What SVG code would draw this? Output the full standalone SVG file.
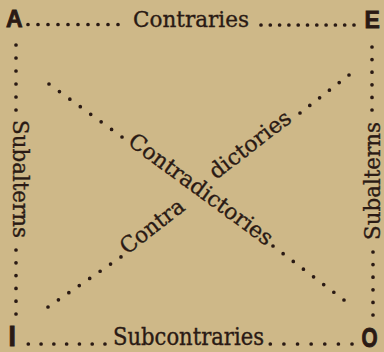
<svg xmlns="http://www.w3.org/2000/svg" width="384" height="352" viewBox="0 0 384 352">
<style>
.dot{stroke:#2a1a14;stroke-width:3.7;stroke-linecap:round;fill:none}
.lbl{font-family:"DejaVu Serif","Liberation Serif",serif;font-size:22px;fill:#2a1a14;stroke:#2a1a14;stroke-width:0.35}
.corner{font-family:"Liberation Sans","DejaVu Sans",sans-serif;font-weight:bold;font-size:23px;fill:#2a1a14;stroke:#2a1a14;stroke-width:0.8}
</style>
<rect width="384" height="352" fill="#ceb888"/>
<g id="connectors">
  <line class="dot" x1="28" y1="24.5" x2="119" y2="24.5" stroke-dasharray="0 10"/>
  <line class="dot" x1="261" y1="25" x2="355" y2="25" stroke-dasharray="0 9.3"/>
  <line class="dot" x1="28.3" y1="344" x2="106" y2="344" stroke-dasharray="0 12.78"/>
  <line class="dot" x1="270.3" y1="344" x2="353" y2="344" stroke-dasharray="0 13.62"/>
  <line class="dot" x1="16" y1="45" x2="16" y2="111" stroke-dasharray="0 13"/>
  <line class="dot" x1="16" y1="250" x2="16" y2="315" stroke-dasharray="0 12.8"/>
  <line class="dot" x1="372" y1="47" x2="372" y2="111" stroke-dasharray="0 12.6"/>
  <line class="dot" x1="373" y1="252" x2="373" y2="316" stroke-dasharray="0 12.6"/>
  <line class="dot" x1="49" y1="84" x2="122.8" y2="137.6" stroke-dasharray="0 12.89"/>
  <line class="dot" x1="273" y1="246" x2="344.8" y2="300.6" stroke-dasharray="0 12.74"/>
  <line class="dot" x1="48" y1="307" x2="121.8" y2="256.4" stroke-dasharray="0 12.64"/>
  <line class="dot" x1="300" y1="113" x2="349.8" y2="74.4" stroke-dasharray="0 12.4"/>
  <text class="lbl" x="133" y="27" textLength="116" lengthAdjust="spacingAndGlyphs">Contraries</text>
  <text class="lbl" transform="translate(113,345) scale(1,1.12)" textLength="151" lengthAdjust="spacingAndGlyphs">Subcontraries</text>
  <text class="lbl" transform="translate(12.5,120) rotate(90)" textLength="118" lengthAdjust="spacingAndGlyphs">Subalterns</text>
  <text class="lbl" transform="translate(379.5,240) rotate(-90)" textLength="118" lengthAdjust="spacingAndGlyphs">Subalterns</text>
  <text class="lbl" transform="translate(126.7,144.1) rotate(36.2)" textLength="173" lengthAdjust="spacingAndGlyphs">Contradictories</text>
  <text class="lbl" transform="translate(127,255) rotate(-37.6)" textLength="75" lengthAdjust="spacingAndGlyphs">Contra</text>
  <text class="lbl" transform="translate(216,180) rotate(-37.6)" textLength="97" lengthAdjust="spacingAndGlyphs">dictories</text>
</g>
<g id="A"><text class="corner" x="6" y="26.5">A</text></g>
<g id="E"><text class="corner" x="364.5" y="27.5">E</text></g>
<g id="I"><text class="corner" transform="translate(8.5,346) scale(1.15,1.3)">I</text></g>
<g id="O"><text class="corner" transform="translate(361.5,346.5) scale(0.9,1.2)">O</text></g>
</svg>
